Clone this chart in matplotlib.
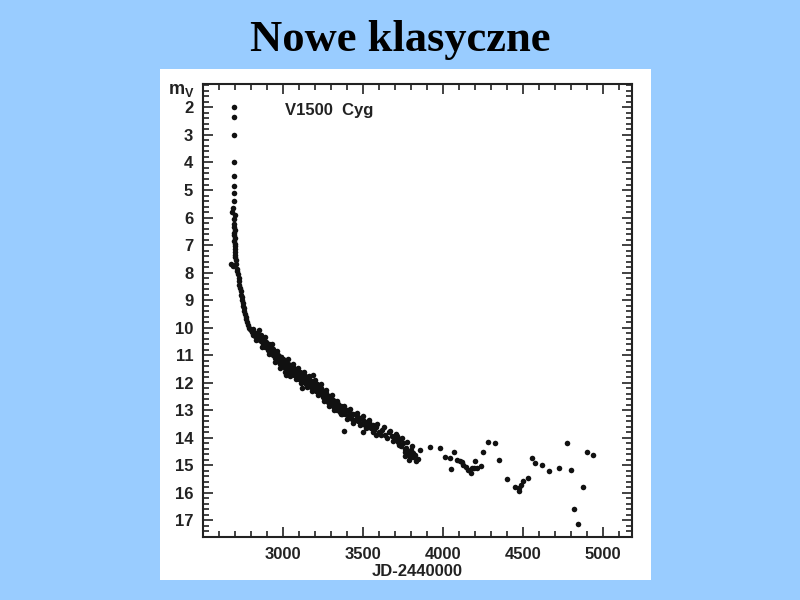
import numpy as np
import matplotlib.pyplot as plt
from matplotlib.ticker import MultipleLocator

# V1500 Cyg light curve (JD-2440000, visual magnitude)
jd_peak = [2694, 2694, 2694, 2694, 2694, 2694, 2694, 2694, 2688, 2681, 2700, 2694,
           2696, 2694, 2697, 2695, 2696, 2697, 2695, 2698, 2697, 2699, 2700, 2698,
           2702, 2704, 2675, 2690, 2706, 2710, 2712, 2718, 2722, 2725, 2728, 2732,
           2735, 2738, 2742, 2745, 2748, 2752, 2755, 2758, 2762, 2766, 2770, 2775,
           2780, 2786, 2792, 2798]
mag_peak = [2.0, 2.35, 3.0, 4.0, 4.5, 4.85, 5.1, 5.4, 5.65, 5.8, 5.9, 6.05,
            6.25, 6.35, 6.45, 6.55, 6.65, 6.75, 6.85, 6.95, 7.05, 7.15, 7.25, 7.35,
            7.45, 7.55, 7.7, 7.75, 7.7, 7.85, 7.95, 8.05, 8.2, 8.3, 8.45, 8.55,
            8.65, 8.8, 8.9, 9.0, 9.1, 9.2, 9.3, 9.4, 9.5, 9.6, 9.7, 9.8,
            9.9, 10.0, 10.05, 10.1]

jd_decline = [2805, 2810, 2815, 2820, 2825, 2830, 2835, 2840, 2845, 2850, 2855, 2860,
              2865, 2870, 2875, 2880, 2885, 2890, 2895, 2900, 2905, 2910, 2915, 2920,
              2925, 2930, 2935, 2940, 2945, 2950, 2955, 2960, 2965, 2970, 2975, 2980,
              2985, 2990, 2995, 3000, 3005, 3010, 3015, 3020, 3025, 3030, 3035, 3040,
              3045, 3050, 3055, 3060, 3065, 3070, 3075, 3080, 3085, 3090, 3095, 3100,
              3105, 3110, 3115, 3120, 3125, 3130, 3135, 3140, 3145, 3150, 3155, 3160,
              3165, 3170, 3175, 3180, 3185, 3190, 3195, 3200, 3205, 3210, 3215, 3220,
              3225, 3230, 3235, 3240, 3245, 3250, 3255, 3260, 3265, 3270, 3275, 3280,
              3285, 3290, 3295, 3300, 3305, 3310, 3315, 3320, 3325, 3330, 3335, 3340,
              3345, 3350, 3355, 3360, 3365, 3370, 3375, 3380, 3390, 3400, 3410, 3420,
              3430, 3440, 3450, 3460, 3470, 3480, 3490, 3500, 3510, 3520, 3530, 3540,
              3550, 3560, 3570, 3580, 3600, 3620, 3640, 3660, 3680, 3700, 3710, 3720,
              3730, 3740, 3750, 3760, 3770, 3780, 3790, 3800, 3810, 3825, 3840, 3856,
              3020, 3120, 3185, 3381, 3500, 3580, 3537, 3760, 3790, 3815]
mag_decline = [10.15, 10.05, 10.25, 10.18, 10.3, 10.2, 10.35, 10.22, 10.4, 10.3, 10.45, 10.28,
               10.5, 10.38, 10.6, 10.45, 10.55, 10.7, 10.52, 10.65, 10.8, 10.6, 10.75, 10.9,
               10.7, 10.85, 11.0, 10.78, 10.95, 11.1, 10.88, 11.05, 11.2, 10.98, 11.15, 11.3,
               11.05, 11.25, 11.4, 11.15, 11.3, 11.45, 11.22, 11.38, 11.5, 11.3, 11.45, 11.6,
               11.35, 11.52, 11.65, 11.42, 11.58, 11.7, 11.5, 11.62, 11.78, 11.55, 11.7, 11.85,
               11.6, 11.75, 11.9, 11.68, 11.82, 11.98, 11.75, 11.88, 12.05, 11.8, 11.95, 12.1,
               11.88, 12.0, 12.15, 11.95, 12.08, 12.22, 12.0, 12.15, 12.3, 12.05, 12.2, 12.35,
               12.12, 12.28, 12.42, 12.2, 12.35, 12.5, 12.3, 12.45, 12.6, 12.38, 12.55, 12.7,
               12.48, 12.62, 12.78, 12.55, 12.7, 12.85, 12.62, 12.78, 12.92, 12.7, 12.85, 12.98,
               12.78, 12.9, 13.05, 12.85, 12.98, 13.12, 12.9, 13.05, 13.15, 12.98, 13.2, 13.08,
               13.3, 13.15, 13.35, 13.2, 13.4, 13.28, 13.48, 13.35, 13.55, 13.42, 13.6, 13.5,
               13.65, 13.55, 13.7, 13.62, 13.78, 13.7, 13.88, 13.8, 13.95, 14.05, 13.95, 14.15,
               14.05, 14.3, 14.2, 14.4, 14.35, 14.5, 14.6, 14.45, 14.7, 14.62, 14.75, 14.44,
               11.7, 12.2, 11.7, 13.75, 13.8, 13.9, 13.42, 14.65, 14.8, 14.55]

# points on the outer edges of the decline band
jd_edge = [2830, 2850, 2870, 2890, 2910, 2930, 2950, 2960, 2980, 2990, 3010, 3030,
           3045, 3060, 3080, 3095, 3110, 3130, 3150, 3165, 3180, 3200, 3220, 3240,
           3255, 3270, 3290, 3305, 3320, 3340, 3360, 3380, 3400, 3420, 3440, 3460,
           3480, 3500, 3520, 3540, 3560, 3590, 3610, 3630, 3650, 3670, 3690, 3705,
           3725, 3745, 3765, 3775, 3795, 3805, 3830]
mag_edge = [10.45, 10.1, 10.7, 10.35, 10.95, 10.6, 11.25, 10.85, 11.45, 11.05, 11.6, 11.15,
            11.75, 11.3, 11.85, 11.45, 12.0, 11.6, 12.15, 11.75, 12.3, 11.9, 12.45, 12.05,
            12.65, 12.25, 12.85, 12.45, 13.0, 12.65, 13.15, 12.85, 13.3, 12.95, 13.45, 13.1,
            13.55, 13.2, 13.65, 13.35, 13.78, 13.5, 13.9, 13.6, 14.0, 13.75, 14.1, 13.85,
            14.25, 14.0, 14.5, 14.15, 14.7, 14.3, 14.85]

jd_late = [3919, 3981, 4012, 4044, 4069, 4048, 4089, 4106, 4117, 4127, 4144, 4158,
           4173, 4179, 4196, 4200, 4214, 4236, 4252, 4283, 4325, 4352, 4398, 4450,
           4471, 4477, 4486, 4502, 4533, 4554, 4575, 4617, 4664, 4727, 4773, 4798,
           4819, 4844, 4873, 4902, 4936]
mag_late = [14.33, 14.36, 14.69, 14.74, 14.53, 15.14, 14.8, 14.84, 14.87, 14.98, 15.05, 15.17,
            15.26, 15.1, 15.1, 14.84, 15.08, 15.02, 14.53, 14.15, 14.18, 14.8, 15.48, 15.8,
            15.93, 15.83, 15.71, 15.56, 15.44, 14.74, 14.93, 14.99, 15.2, 15.1, 14.17, 15.15,
            16.6, 17.12, 15.8, 14.51, 14.62]

jd = jd_peak + jd_decline + jd_edge + jd_late
mag = mag_peak + mag_decline + mag_edge + mag_late

plt.rcParams['font.family'] = ['Liberation Sans', 'DejaVu Sans']
plt.rcParams['mathtext.default'] = 'regular'

fig = plt.figure(figsize=(8, 6), dpi=100, facecolor='#99CCFF')

# white "scan" panel
paper = fig.add_axes([160/800, 20/600, 491/800, 511/600])
paper.set_facecolor('white')
paper.set_xticks([])
paper.set_yticks([])
for s in paper.spines.values():
    s.set_visible(False)

fig.text(0.5, 1 - 40/600, 'Nowe klasyczne', ha='center', va='center',
         family=['Liberation Serif', 'DejaVu Serif'], fontweight='bold', fontsize=32)

ax = fig.add_axes([203/800, 63/600, 429/800, 453/600])
ax.set_facecolor('none')
ax.plot(jd, mag, 'o', color='#111111', markersize=4, markeredgewidth=0)

ax.set_xlim(2500, 5180)
ax.set_ylim(17.6, 1.15)
ax.xaxis.set_major_locator(MultipleLocator(500))
ax.xaxis.set_minor_locator(MultipleLocator(100))
ax.yaxis.set_major_locator(MultipleLocator(1))
ax.yaxis.set_minor_locator(MultipleLocator(0.2))
ax.set_xticks([3000, 3500, 4000, 4500, 5000])
ax.set_yticks(range(2, 18))
ax.tick_params(which='both', direction='in', top=True, right=True, width=1.2, colors='#222222')
ax.tick_params(which='major', length=7, labelsize=12, pad=7)
ax.tick_params(which='minor', length=4)
for lab in ax.get_xticklabels() + ax.get_yticklabels():
    lab.set_fontweight('bold')
    lab.set_color('#222222')
for s in ax.spines.values():
    s.set_linewidth(1.5)
    s.set_color('#222222')

ax.set_xlabel('JD-2440000', fontsize=12, fontweight='bold', color='#222222', labelpad=2)
ax.text(-0.05, 0.985, 'm$_V$', transform=ax.transAxes, ha='center', va='center',
        fontsize=13, fontweight='bold', color='#222222')
ax.text(3012, 2.1, 'V1500  Cyg', fontsize=12, fontweight='bold', color='#222222', va='center')

fig.savefig('out.png', dpi=100, facecolor=fig.get_facecolor())
